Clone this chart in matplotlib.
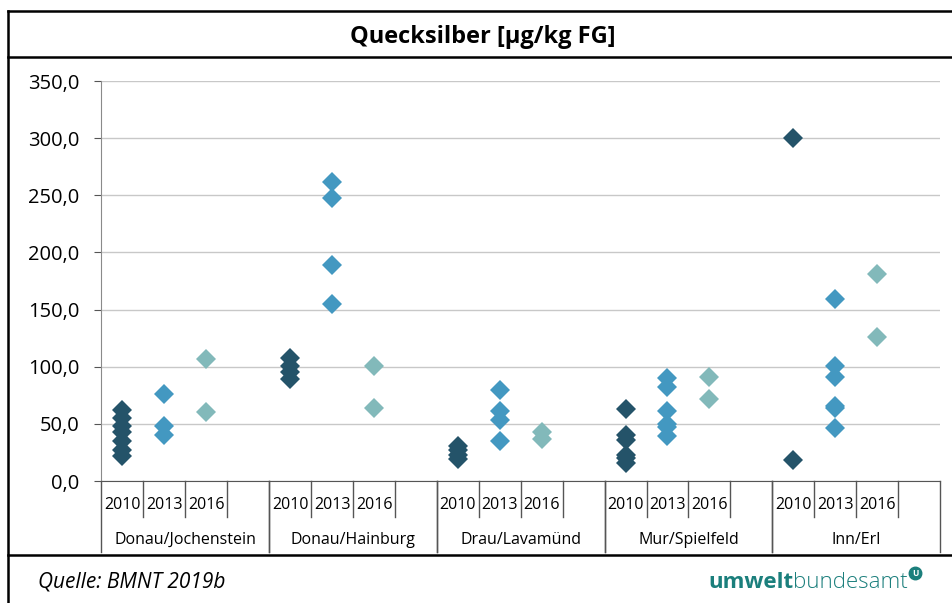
import numpy as np
import matplotlib.pyplot as plt
from matplotlib.lines import Line2D
import matplotlib.transforms as mtransforms
from matplotlib.ticker import FuncFormatter

plt.rcParams['font.family'] = ['Open Sans', 'DejaVu Sans']

# Messstellen und Jahre
stellen = ["Donau/Jochenstein", "Donau/Hainburg", "Drau/Lavamünd", "Mur/Spielfeld", "Inn/Erl"]
jahre = ["2010", "2013", "2016"]

# Quecksilber [µg/kg FG], je Messstelle und Jahr
werte_2010 = [
    [62, 55, 48, 43, 35, 27, 22],
    [108, 101, 95, 89],
    [31, 27, 23, 19],
    [63, 40, 36, 23, 20, 16],
    [300, 18],
]
werte_2013 = [
    [76, 48, 40],
    [262, 248, 189, 155],
    [80, 61, 53, 35],
    [90, 82, 61, 50, 47, 39],
    [159, 101, 91, 66, 64, 46],
]
werte_2016 = [
    [107, 60],
    [101, 64],
    [43, 37],
    [91, 72],
    [181, 126],
]

farben = ["#245369", "#4398c1", "#82b9ba"]
logo_farbe = "#1b7f7c"

fig = plt.figure(figsize=(9.53, 6.03), dpi=100)
W, H = 953, 603

def fx(px):
    return px / W

def fy(py):
    return 1 - py / H

# Rahmen
for (x0, y0, x1, y1) in [(8, 11, 953, 11), (8, 11, 8, 603), (8, 57, 953, 57), (8, 555, 953, 555)]:
    fig.add_artist(Line2D([fx(x0), fx(x1)], [fy(y0), fy(y1)], color="black", lw=1.8,
                          transform=fig.transFigure))

fig.text(fx(483), fy(37), "Quecksilber [µg/kg FG]", ha="center", va="center",
         fontsize=17, fontweight="bold")

ax_l, ax_r, ax_t, ax_b = 101.5, 940, 81, 481
ax = fig.add_axes([fx(ax_l), fy(ax_b), fx(ax_r - ax_l), (ax_b - ax_t) / H])

# Punkte zeichnen
for g in range(len(stellen)):
    for k, serie in enumerate([werte_2010, werte_2013, werte_2016]):
        vals = serie[g]
        xs = np.full(len(vals), 4 * g + k + 0.5)
        ax.plot(xs, vals, linestyle="none", marker="D", markersize=10.5,
                markeredgewidth=0, color=farben[k], zorder=3)

ax.set_xlim(0, 4 * len(stellen))
ax.set_ylim(0, 350)
ax.set_yticks(np.arange(0, 351, 50))
ax.yaxis.set_major_formatter(FuncFormatter(lambda v, p: f"{v:.1f}".replace(".", ",")))
ax.tick_params(axis="y", labelsize=14.5, length=5, color="#555555", pad=11)
ax.set_xticks([])
ax.grid(axis="y", color="#c8c8c8", lw=1)
ax.set_axisbelow(True)
for s in ["top", "right"]:
    ax.spines[s].set_visible(False)
ax.spines["left"].set_color("#8a8a8a")
ax.spines["bottom"].set_color("#555555")

# Kategorienachse (zweistufig)
trans = mtransforms.blended_transform_factory(ax.transData, ax.transAxes)
kurz = -36 / 400
lang = -71 / 400
for g in range(len(stellen)):
    for j in range(5):
        x = 4 * g + j
        unten = lang if j in (0, 4) else kurz
        ax.add_line(Line2D([x, x], [0, unten], color="#555555", lw=1, transform=trans, clip_on=False))
    for k, jahr in enumerate(jahre):
        ax.text(4 * g + k + 0.5, -24 / 400, jahr, transform=trans, ha="center", va="center", fontsize=11.5)
    ax.text(4 * g + 2, -59 / 400, stellen[g], transform=trans, ha="center", va="center", fontsize=11.5)

# Fußzeile
fig.text(fx(38), fy(582), "Quelle: BMNT 2019b", ha="left", va="center", fontsize=15, style="italic")
fig.canvas.draw()
t2 = fig.text(fx(908), fy(582), "bundesamt", ha="right", va="center", fontsize=16,
              color=logo_farbe, fontweight="light")
r = fig.canvas.get_renderer()
bb = t2.get_window_extent(r)
fig.text(bb.x0 / W, fy(582), "umwelt", ha="right", va="center", fontsize=16,
         color=logo_farbe, fontweight="bold")
# kleines Logo-Zeichen
fig.add_artist(Line2D([fx(915)], [fy(573)], marker="o", markersize=9, color=logo_farbe,
                      transform=fig.transFigure))
fig.text(fx(915), fy(573), "U", ha="center", va="center", fontsize=6,
         color="white", fontweight="bold")

fig.savefig("out.png", dpi=100)
